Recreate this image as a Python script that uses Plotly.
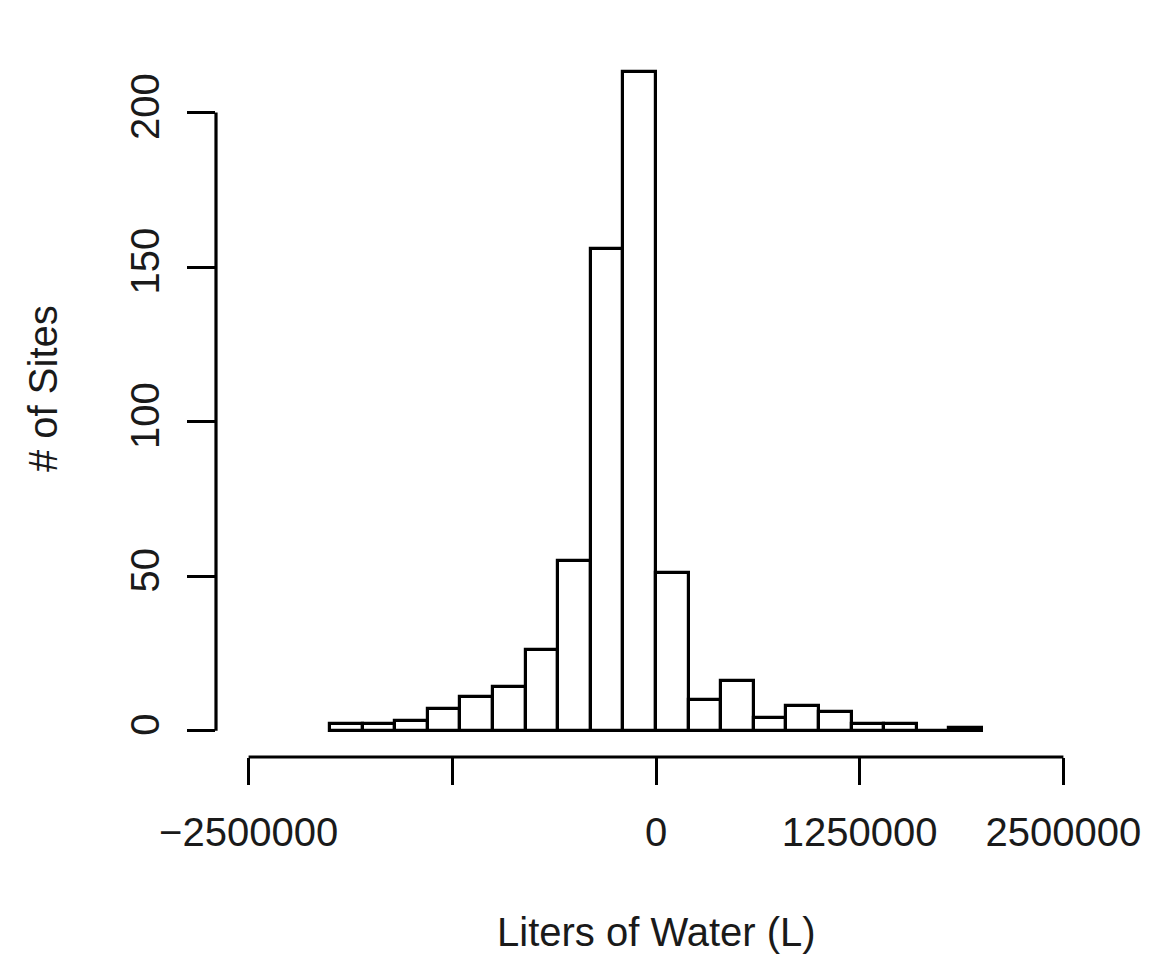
import plotly.graph_objects as go

# Histogram data (bin edges in liters, counts of sites)
bin_edges = [-2000000, -1800000, -1600000, -1400000, -1200000, -1000000,
             -800000, -600000, -400000, -200000, 0, 200000, 400000, 600000,
             800000, 1000000, 1200000, 1400000, 1600000, 1800000, 2000000]
counts = [2, 2, 3, 7, 11, 14, 26, 55, 156, 213, 51, 10, 16, 4, 8, 6, 2, 2, 0, 1]

x_tickvals = [-2500000, -1250000, 0, 1250000, 2500000]
x_ticktext = ["\u22122500000", "", "0", "1250000", "2500000"]
y_tickvals = [0, 50, 100, 150, 200]
y_ticktext = ["0", "50", "100", "150", "200"]

x_title = "Liters of Water (L)"
y_title = "# of Sites"

centers = [(a + b) / 2 for a, b in zip(bin_edges[:-1], bin_edges[1:])]
widths = [b - a for a, b in zip(bin_edges[:-1], bin_edges[1:])]

FONT = "Liberation Sans, Arial, Helvetica, sans-serif"
TXT = "#1a1a1a"
LW = 3.2

fig = go.Figure(
    go.Bar(
        x=centers,
        y=counts,
        width=widths,
        marker=dict(color="white", line=dict(color="black", width=LW)),
        hoverinfo="x+y",
    )
)

# R-style axis extents: 4% padding
xpad = 0.04 * (x_tickvals[-1] - x_tickvals[0])
ymax = max(counts)
ypad = 0.04 * ymax

W, H = 1164, 956
L, R, T, B = 216, 68, 46, 199
plot_h = H - T - B

fig.update_layout(
    width=W,
    height=H,
    margin=dict(l=L, r=R, t=T, b=B, pad=0),
    paper_bgcolor="white",
    plot_bgcolor="white",
    showlegend=False,
    bargap=0,
    font=dict(family=FONT, size=40, color=TXT),
    xaxis=dict(
        range=[x_tickvals[0] - xpad, x_tickvals[-1] + xpad],
        tickmode="array",
        tickvals=x_tickvals,
        ticktext=x_ticktext,
        ticks="outside",
        ticklen=27,
        tickwidth=LW,
        tickcolor="black",
        showgrid=False,
        zeroline=False,
        showline=False,
        ticklabelstandoff=13,
        tickfont=dict(family=FONT, size=40, color=TXT),
    ),
    yaxis=dict(
        range=[-ypad, ymax + ypad],
        tickmode="array",
        tickvals=y_tickvals,
        ticktext=y_ticktext,
        tickangle=-90,
        ticks="outside",
        ticklen=28,
        tickwidth=LW,
        tickcolor="black",
        showgrid=False,
        zeroline=False,
        showline=False,
        ticklabelstandoff=12,
        tickfont=dict(family=FONT, size=40, color=TXT),
    ),
    shapes=[
        dict(type="line", xref="x", yref="paper",
             x0=x_tickvals[0], x1=x_tickvals[-1], y0=0, y1=0,
             line=dict(color="black", width=LW)),
        dict(type="line", xref="paper", yref="y",
             x0=0, x1=0, y0=y_tickvals[0], y1=y_tickvals[-1],
             line=dict(color="black", width=LW)),
    ],
    annotations=[
        dict(text=x_title, xref="paper", yref="paper", x=0.5, y=0,
             xanchor="center", yanchor="middle", yshift=-175,
             showarrow=False, font=dict(family=FONT, size=40, color=TXT)),
        dict(text=y_title, xref="paper", yref="paper", x=0, y=(H - B - 389) / plot_h,
             xanchor="center", yanchor="middle", xshift=-173, textangle=-90,
             showarrow=False, font=dict(family=FONT, size=40, color=TXT)),
    ],
)

fig.write_html("out.html")
